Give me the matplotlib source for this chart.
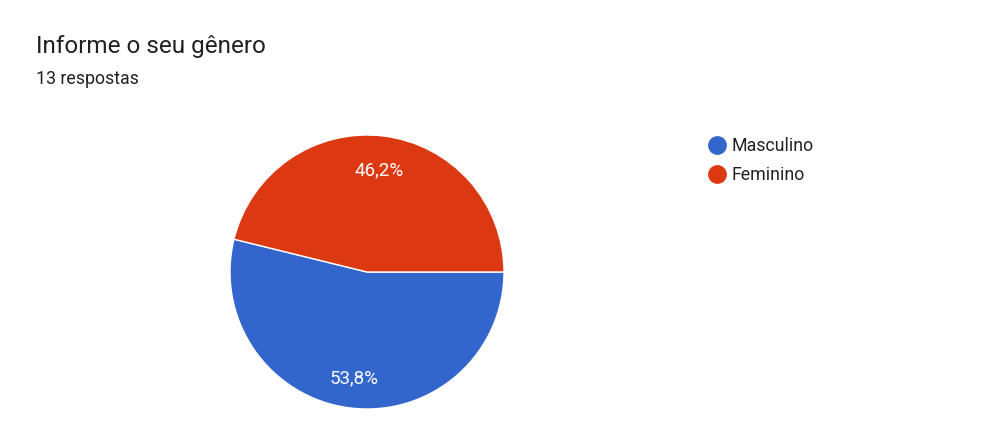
import matplotlib
matplotlib.use("Agg")
import matplotlib.pyplot as plt
from matplotlib.lines import Line2D

categories = ["Masculino", "Feminino"]
counts = [7, 6]
colors = ["#3366CC", "#DC3912"]
title = "Informe o seu gênero"
subtitle = "13 respostas"

plt.rcParams['font.family'] = ['Roboto', 'DejaVu Sans']

fig = plt.figure(figsize=(10.02, 4.48), dpi=100)
W, H = 1002, 448
cx, cy, r = 367, 272, 137
ax = fig.add_axes([(cx - r) / W, 1 - (cy + r) / H, 2 * r / W, 2 * r / H])

def fmt(p):
    return f"{p:.1f}".replace(".", ",") + "%"

wedges, texts, autotexts = ax.pie(
    counts, colors=colors, startangle=0, counterclock=False,
    autopct=fmt, pctdistance=0.76,
    wedgeprops=dict(edgecolor="white", linewidth=1),
    textprops=dict(color="white", fontsize=13.5),
)
autotexts[0].set_y(autotexts[0].get_position()[1] - 0.02)
autotexts[1].set_y(autotexts[1].get_position()[1] - 0.015)
ax.set_aspect("equal")
ax.set_xlim(-1, 1)
ax.set_ylim(-1, 1)
ax.axis("off")

fig.text(36 / W, 1 - 47 / H, title, fontsize=17.5, color="#202124", va="center", ha="left")
fig.text(36 / W, 1 - 79 / H, subtitle, fontsize=12.8, color="#202124", va="center", ha="left")

handles = [Line2D([0], [0], marker="o", color="w", markerfacecolor=c, markeredgecolor=c,
                  markersize=12.5, linestyle="") for c in colors]
leg = fig.legend(handles, categories, loc="upper left",
                 bbox_to_anchor=(700 / W, 1 - 130 / H), frameon=False,
                 fontsize=12.8, handletextpad=0.25, labelspacing=0.62,
                 handlelength=1.1, borderaxespad=0)
for t in leg.get_texts():
    t.set_color("#222222")

fig.savefig("out.png", dpi=100, facecolor="white")
